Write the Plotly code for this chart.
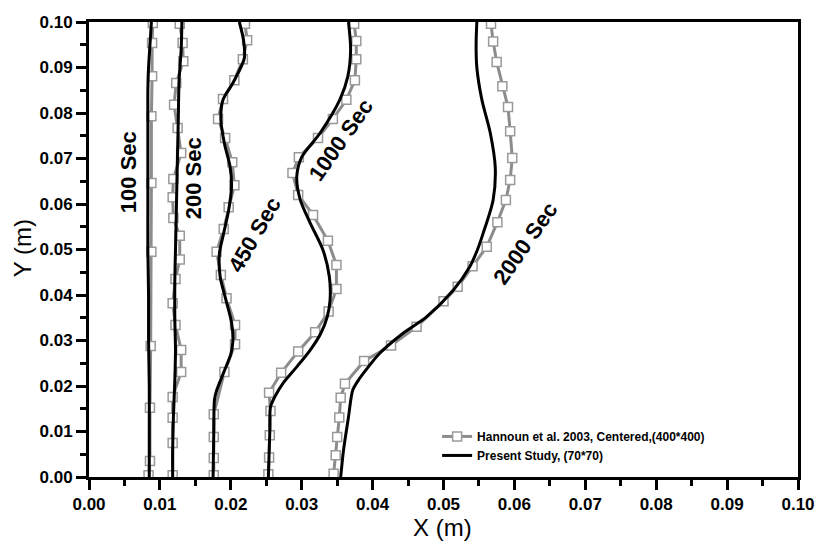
import plotly.graph_objects as go

# ---------------- data ----------------
# Present Study (70*70) -- black curves (x in m, y in m)
p100_y = [0.100, 0.095, 0.090, 0.085, 0.080, 0.070, 0.060, 0.050, 0.040, 0.030, 0.020, 0.010, 0.000]
p100_x = [0.0088, 0.0086, 0.0084, 0.0083, 0.0083, 0.0083, 0.0083, 0.0083, 0.0084, 0.0084, 0.0085, 0.0085, 0.0085]

p200_y = [0.100, 0.094, 0.087, 0.079, 0.072, 0.065, 0.057, 0.050, 0.043, 0.035, 0.028, 0.021, 0.013, 0.006, 0.000]
p200_x = [0.0131, 0.0130, 0.0127, 0.0126, 0.0125, 0.0124, 0.0123, 0.0122, 0.0121, 0.0121, 0.0122, 0.0121, 0.0119, 0.0118, 0.0118]

p450_y = [0.100, 0.096, 0.092, 0.0866, 0.0829, 0.0785, 0.0733, 0.0682, 0.0637, 0.0587, 0.0536, 0.0492, 0.0440,
          0.039, 0.034, 0.030, 0.027, 0.023, 0.019, 0.017, 0.010, 0.000]
p450_x = [0.0212, 0.0218, 0.0219, 0.0203, 0.0189, 0.0186, 0.0191, 0.0199, 0.0201, 0.0197, 0.0190, 0.0184, 0.0185,
          0.0193, 0.0201, 0.0203, 0.0200, 0.0190, 0.0180, 0.0177, 0.0176, 0.0175]

p1000_y = [0.100, 0.094, 0.088, 0.083, 0.0756, 0.0703, 0.0659, 0.0609, 0.0558, 0.0499, 0.0440, 0.0389, 0.0352,
           0.0316, 0.0279, 0.0242, 0.0207, 0.0176, 0.0154, 0.010, 0.005, 0.000]
p1000_x = [0.0366, 0.0369, 0.0365, 0.0354, 0.0326, 0.0300, 0.0293, 0.0298, 0.0312, 0.0330, 0.0339, 0.0340, 0.0336,
           0.0327, 0.0312, 0.0293, 0.0274, 0.0262, 0.0256, 0.0255, 0.0254, 0.0253]

p2000_y = [0.100, 0.095, 0.090, 0.083, 0.0756, 0.068, 0.0609, 0.0536, 0.050, 0.0462, 0.0411, 0.0352, 0.0316,
           0.0272, 0.0242, 0.0213, 0.0191, 0.0132, 0.0059, 0.000]
p2000_x = [0.0547, 0.0546, 0.0547, 0.0554, 0.0566, 0.0573, 0.0570, 0.0556, 0.0548, 0.0537, 0.0514, 0.0476, 0.0443,
           0.0410, 0.0394, 0.0380, 0.0372, 0.0366, 0.0359, 0.0355]

# Hannoun et al. 2003, Centered (400*400) -- grey curves with square markers
h100_y = [0.0998, 0.0954, 0.0881, 0.0793, 0.0646, 0.0495, 0.0288, 0.0152, 0.0035, 0.0004]
h100_x = [0.0090, 0.0089, 0.0089, 0.0088, 0.0088, 0.0088, 0.0087, 0.0086, 0.0086, 0.0084]

h200_y = [0.0996, 0.0954, 0.0914, 0.0866, 0.0818, 0.0767, 0.0712, 0.0655, 0.0615, 0.0569, 0.0530,
          0.0478, 0.0435, 0.0382, 0.0334, 0.0279, 0.0231, 0.0176, 0.0130, 0.0075, 0.0004]
h200_x = [0.0128, 0.0132, 0.0133, 0.0123, 0.0120, 0.0125, 0.0130, 0.0119, 0.0118, 0.0119, 0.0128,
          0.0128, 0.0122, 0.0118, 0.0122, 0.0130, 0.0130, 0.0118, 0.0118, 0.0118, 0.0118]

h450_y = [0.0996, 0.0960, 0.0918, 0.0872, 0.0831, 0.0787, 0.0745, 0.0692, 0.0641, 0.0593, 0.0545,
          0.0495, 0.0444, 0.0393, 0.0334, 0.0292, 0.0231, 0.0138, 0.0088, 0.0042, 0.0004]
h450_x = [0.0220, 0.0223, 0.0217, 0.0205, 0.0189, 0.0182, 0.0192, 0.0202, 0.0205, 0.0197, 0.0190,
          0.0180, 0.0186, 0.0194, 0.0206, 0.0206, 0.0191, 0.0176, 0.0176, 0.0176, 0.0176]

h1000_y = [0.0996, 0.0958, 0.0918, 0.0872, 0.0829, 0.0787, 0.0745, 0.0703, 0.0668, 0.0620, 0.0576, 0.0519,
           0.0466, 0.0413, 0.0364, 0.0318, 0.0276, 0.0229, 0.0185, 0.0145, 0.0092, 0.0043, 0.0006]
h1000_x = [0.0374, 0.0377, 0.0377, 0.0375, 0.0363, 0.0344, 0.0323, 0.0296, 0.0287, 0.0295, 0.0316, 0.0337,
           0.0349, 0.0349, 0.0338, 0.0319, 0.0295, 0.0271, 0.0254, 0.0256, 0.0255, 0.0254, 0.0253]

h2000_y = [0.0996, 0.0957, 0.0912, 0.0859, 0.0813, 0.0760, 0.0701, 0.0653, 0.0609, 0.0560, 0.0506,
           0.0463, 0.0418, 0.0386, 0.0330, 0.0289, 0.0255, 0.0205, 0.0174, 0.0131, 0.0088, 0.0048, 0.0007]
h2000_x = [0.0567, 0.0570, 0.0575, 0.0583, 0.0591, 0.0594, 0.0597, 0.0594, 0.0588, 0.0576, 0.0561,
           0.0541, 0.0520, 0.0500, 0.0462, 0.0426, 0.0388, 0.0361, 0.0355, 0.0353, 0.0350, 0.0348, 0.0345]

# curve labels: text, x, y, angle
label_text = ["100 Sec", "200 Sec", "450 Sec", "1000 Sec", "2000 Sec"]
label_x = [0.0055, 0.0147, 0.0234, 0.0356, 0.0615]
label_y = [0.0670, 0.0657, 0.0532, 0.0741, 0.0514]
label_angle = [-90, -90, -60, -55, -55]

x_ticks = [0.00, 0.01, 0.02, 0.03, 0.04, 0.05, 0.06, 0.07, 0.08, 0.09, 0.10]
y_ticks = [0.00, 0.01, 0.02, 0.03, 0.04, 0.05, 0.06, 0.07, 0.08, 0.09, 0.10]

name_h = "Hannoun et al. 2003, Centered,(400*400)"
name_p = "Present Study, (70*70)"

# ---------------- figure ----------------
FONT = "Arial, 'Liberation Sans', sans-serif"
fig = go.Figure()

hann = [(h100_x, h100_y), (h200_x, h200_y), (h450_x, h450_y), (h1000_x, h1000_y), (h2000_x, h2000_y)]
pres = [(p100_x, p100_y), (p200_x, p200_y), (p450_x, p450_y), (p1000_x, p1000_y), (p2000_x, p2000_y)]

for i, (hx, hy) in enumerate(hann):
    fig.add_trace(go.Scatter(
        x=hx, y=hy, mode="lines+markers", name=name_h, legendgroup="h",
        showlegend=(i == 0),
        line=dict(color="#8c8c8c", width=3),
        marker=dict(symbol="square", size=9, color="white",
                    line=dict(color="#9a9a9a", width=1.5)),
    ))

for i, (px, py) in enumerate(pres):
    fig.add_trace(go.Scatter(
        x=px, y=py, mode="lines", name=name_p, legendgroup="p",
        showlegend=(i == 0),
        line=dict(color="black", width=3, shape="spline", smoothing=0.8),
    ))

for t, lx, ly, ang in zip(label_text, label_x, label_y, label_angle):
    fig.add_annotation(x=lx, y=ly, xref="x", yref="y", text=t, showarrow=False,
                       textangle=ang,
                       font=dict(family=FONT, size=22, color="black", weight="bold"))

# axis titles
fig.add_annotation(x=0.499, y=-0.112, xref="paper", yref="paper", text="X (m)",
                   xanchor="center", yanchor="middle",
                   showarrow=False, font=dict(family=FONT, size=24, color="black"))
fig.add_annotation(x=-0.0945, y=0.503, xref="paper", yref="paper", text="Y (m)",
                   xanchor="center", yanchor="middle",
                   textangle=-90, showarrow=False, font=dict(family=FONT, size=24, color="black"))

axis_common = dict(
    showgrid=False, zeroline=False, showline=True, linecolor="black", linewidth=3,
    mirror=True, ticks="outside", ticklen=10, tickwidth=2.5, tickcolor="black",
    tickformat=".2f", automargin=False,
    tickfont=dict(family=FONT, size=17, color="black", weight="bold"),
    minor=dict(ticks="outside", ticklen=6, tickwidth=2.5, tickcolor="black", dtick=0.005),
)

fig.update_xaxes(range=[0, 0.1], tickvals=x_ticks, **axis_common)
fig.update_yaxes(range=[0, 0.1], tickvals=y_ticks, **axis_common)

fig.update_layout(
    width=819, height=542,
    margin=dict(l=89, r=21, t=22, b=65),
    paper_bgcolor="white", plot_bgcolor="white",
    font=dict(family=FONT, color="black"),
    legend=dict(x=0.491, y=0.121, xanchor="left", yanchor="top",
                bgcolor="rgba(0,0,0,0)", borderwidth=0,
                font=dict(family=FONT, size=12, color="black", weight="bold"),
                tracegroupgap=0, itemwidth=30),
)

fig.write_html("out.html", config={"displayModeBar": False},
               post_script="document.body.style.margin='0';")
